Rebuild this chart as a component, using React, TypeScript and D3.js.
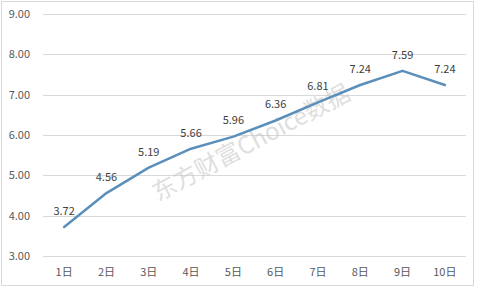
import React from "react";
import * as d3 from "d3";

const categories = ["1日", "2日", "3日", "4日", "5日", "6日", "7日", "8日", "9日", "10日"];
const values = [3.72, 4.56, 5.19, 5.66, 5.96, 6.36, 6.81, 7.24, 7.59, 7.24];
const yTicks = [3, 4, 5, 6, 7, 8, 9];

const W = 480;
const H = 288;
const left = 43;
const right = 466;
const top = 14;
const bottom = 256;
const font = "'Microsoft YaHei', 'Noto Sans CJK SC', 'DejaVu Sans', sans-serif";

export default function App() {
  const x = d3.scaleBand<string>().domain(categories).range([left, right]);
  const y = d3.scaleLinear().domain([3, 9]).range([bottom, top]);
  const pts = values.map((v, i) => [x(categories[i])! + x.bandwidth() / 2, y(v)] as [number, number]);
  const line = d3.line().curve(d3.curveLinear)(pts) || "";
  return (
    <svg width={W} height={H} style={{ position: "absolute", left: 0, top: 0 }}>
      <rect x={0} y={0} width={W} height={H} fill="#ffffff" />
      <rect x={1.5} y={1.5} width={472} height={284} fill="none" stroke="#d9d9d9" strokeWidth={1} />
      {yTicks.map((t) => (
        <g key={t}>
          <line x1={left} x2={right} y1={Math.round(y(t)) + 0.5} y2={Math.round(y(t)) + 0.5} stroke="#d9d9d9" strokeWidth={1} />
          <text x={30} y={y(t)} dy="0.35em" textAnchor="end" fontSize={11} fill="#595959" fontFamily={font}>
            {t.toFixed(2)}
          </text>
        </g>
      ))}
      {categories.map((c) => (
        <text key={c} x={x(c)! + x.bandwidth() / 2} y={272} dy="0.35em" textAnchor="middle" fontSize={11} fill="#595959" fontFamily={font}>
          {c}
        </text>
      ))}
      <text
        transform="translate(255,150) rotate(-28)"
        textAnchor="middle"
        fontSize={24}
        fill="#c8c8c8"
        fillOpacity={0.6}
        fontFamily={font}
      >
        东方财富Choice数据
      </text>
      <path d={line} fill="none" stroke="#5b8fbb" strokeWidth={2.5} strokeLinejoin="round" strokeLinecap="round" />
      {values.map((v, i) => (
        <text key={i} x={pts[i][0]} y={pts[i][1] - 16} dy="0.35em" textAnchor="middle" fontSize={11} fill="#404040" fontFamily={font}>
          {v.toFixed(2)}
        </text>
      ))}
    </svg>
  );
}
